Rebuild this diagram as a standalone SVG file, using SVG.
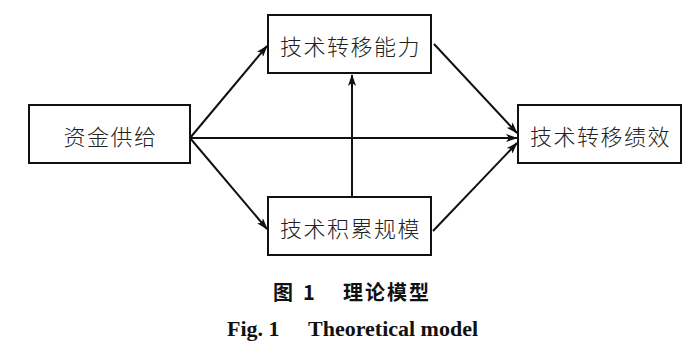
<svg xmlns="http://www.w3.org/2000/svg" width="700" height="356" viewBox="0 0 700 356">
<defs>
<marker id="ah" markerWidth="12" markerHeight="8" refX="11" refY="4" orient="auto" markerUnits="userSpaceOnUse">
<path d="M0,0 L12,4 L0,8 L3,4 Z" fill="#111"/>
</marker>
<style>
.box{fill:#fff;stroke:#111;stroke-width:2}
.lbl{font-family:"Noto Sans CJK SC","Noto Sans CJK JP",sans-serif;font-size:22px;font-weight:300;letter-spacing:1.5px;fill:#222;text-anchor:middle;dominant-baseline:central}
.con{stroke:#111;stroke-width:2;fill:none;marker-end:url(#ah)}
.cap{font-family:"Noto Sans CJK SC",sans-serif;font-weight:bold;font-size:20px;fill:#111}
.capE{font-family:"Liberation Serif",serif;font-weight:bold;font-size:22px;fill:#111}
</style>
</defs>
<rect width="700" height="356" fill="#fff"/>
<g id="connectors">
<line class="con" x1="190" y1="138" x2="267" y2="46"/>
<line class="con" x1="190" y1="138" x2="267" y2="229"/>
<line class="con" x1="190" y1="138" x2="517" y2="138"/>
<line class="con" x1="434" y1="44" x2="517" y2="133"/>
<line class="con" x1="433" y1="231" x2="517" y2="143"/>
<line class="con" x1="352" y1="197" x2="352" y2="75"/>
</g>
<g id="n1"><rect class="box" x="268" y="15" width="163" height="58"/><text class="lbl" x="350.5" y="45">技术转移能力</text></g>
<g id="n2"><rect class="box" x="29" y="105" width="161" height="58"/><text class="lbl" x="110.5" y="135">资金供给</text></g>
<g id="n3"><rect class="box" x="518" y="105" width="163" height="58"/><text class="lbl" x="600.5" y="135">技术转移绩效</text></g>
<g id="n4"><rect class="box" x="268" y="197" width="163" height="58"/><text class="lbl" x="350.5" y="227">技术积累规模</text></g>
<g id="caption">
<text class="cap" x="273" y="300">图<tspan x="303">1</tspan></text>
<text class="cap" x="343" y="300" letter-spacing="2">理论模型</text>
<text class="capE" x="227" y="336">Fig. 1</text>
<text class="capE" x="308" y="336">Theoretical model</text>
</g>
</svg>
